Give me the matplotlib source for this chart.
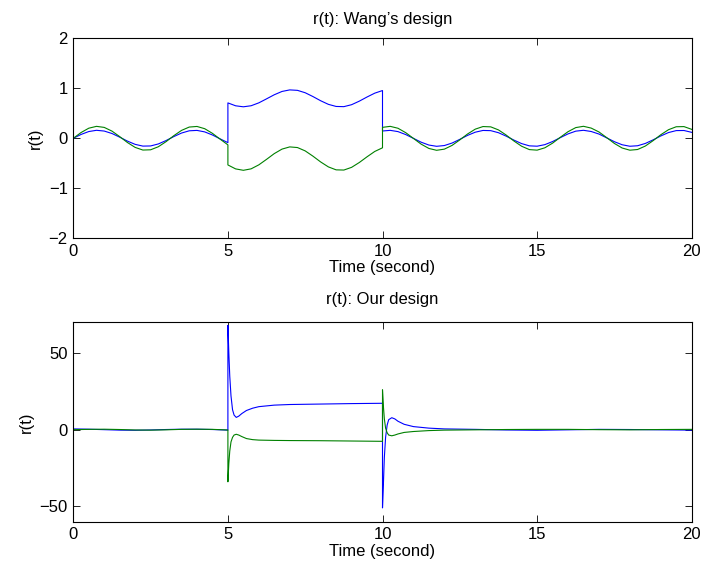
import numpy as np
from matplotlib import pyplot as plt

# ---- top panel: Wang's design (sampled every 0.25 s, jumps at t=5 and t=10)
t_a = np.arange(0, 5.001, 0.25)
t_b = np.arange(5, 10.001, 0.25)
t_c = np.arange(10, 20.001, 0.25)

wang_blue_a = [0.0, 0.077, 0.135, 0.160, 0.145, 0.096, 0.023, -0.056, -0.121, -0.156,
               -0.153, -0.113, -0.045, 0.034, 0.105, 0.150, 0.158, 0.128, 0.066, -0.012, -0.087]
wang_green_a = [0.0, 0.115, 0.202, 0.239, 0.218, 0.144, 0.034, -0.084, -0.182, -0.235,
                -0.230, -0.169, -0.067, 0.052, 0.158, 0.225, 0.237, 0.192, 0.099, -0.018, -0.131]

wang_blue_b = [0.708, 0.650, 0.630, 0.651, 0.709, 0.789, 0.871, 0.937, 0.968, 0.959, 0.911,
               0.835, 0.751, 0.679, 0.637, 0.633, 0.672, 0.743, 0.826, 0.903, 0.955]
wang_green_b = [-0.533, -0.612, -0.640, -0.611, -0.531, -0.421, -0.306, -0.216, -0.172, -0.185,
                -0.252, -0.357, -0.473, -0.572, -0.631, -0.635, -0.581, -0.484, -0.370, -0.263, -0.190]

wang_blue_c = [0.146, 0.159, 0.134, 0.075, -0.001, -0.078, -0.135, -0.160, -0.145, -0.095, -0.021,
               0.058, 0.122, 0.157, 0.153, 0.112, 0.043, -0.036, -0.106, -0.151, -0.158,
               -0.127, -0.065, 0.013, 0.088, 0.143, 0.160, 0.136, 0.085, 0.009, -0.068,
               -0.129, -0.159, -0.149, -0.103, -0.032, 0.047, 0.115, 0.154, 0.156, 0.119]
wang_green_c = [0.219, 0.239, 0.201, 0.113, -0.002, -0.117, -0.203, -0.240, -0.217, -0.142, -0.032,
                0.086, 0.183, 0.235, 0.229, 0.168, 0.065, -0.054, -0.159, -0.226, -0.237,
                -0.190, -0.097, 0.020, 0.132, 0.214, 0.240, 0.204, 0.127, 0.014, -0.103,
                -0.194, -0.238, -0.224, -0.155, -0.048, 0.071, 0.172, 0.231, 0.234, 0.179]

# ---- bottom panel: our design (denser sampling around the transients)
t_ours = [0, 0.5, 1, 1.5, 2, 2.5, 3, 3.5, 4, 4.5, 4.75, 5.0,
          5.0, 5.03, 5.06, 5.1, 5.15, 5.2, 5.27, 5.35, 5.45, 5.6, 5.8, 6.0, 6.5, 7, 8, 9, 10.0,
          10.0, 10.03, 10.06, 10.1, 10.15, 10.2, 10.3, 10.4, 10.5, 10.7, 11, 11.5, 12, 13,
          14, 15, 16, 17, 18, 19, 20]
ours_blue = [0.5, 0.3, 0.0, -0.3, -0.4, -0.2, 0.1, 0.3, 0.3, 0.1, -0.1, -0.3,
             68, 50, 35, 22, 13, 9.5, 8.0, 8.8, 10.5, 12.5, 14.0, 15.0, 16.0, 16.4, 16.7, 17.0, 17.2,
             -51, -35, -18, -5, 3, 6.5, 7.8, 7.0, 5.5, 3.5, 2.0, 1.0, 0.5, 0.2,
             -0.2, -0.4, -0.1, 0.2, 0.1, -0.1, -0.3]
ours_green = [0.0, 0.2, 0.3, 0.1, -0.2, -0.3, -0.1, 0.2, 0.3, 0.2, 0.0, -0.2,
              -34, -22, -14, -8, -5, -3.5, -3.0, -3.5, -4.5, -5.8, -6.5, -6.8, -7.0, -7.1, -7.2, -7.4, -7.6,
              26, 15, 7, 1, -2, -3.5, -4.0, -3.5, -2.8, -1.8, -1.2, -0.6, -0.3, -0.1,
              0.1, 0.2, 0.2, 0.0, -0.1, 0.1, 0.2]

BLUE = (0, 0, 1)
GREEN = (0, 0.5, 0)

plt.rcParams['font.family'] = ['Liberation Sans', 'DejaVu Sans']
plt.rcParams['font.size'] = 12

fig = plt.figure(figsize=(7.06, 5.79), dpi=100)
ax1 = fig.add_axes([73.3 / 706, 1 - 238.3 / 579, 618.4 / 706, 200 / 579])
ax2 = fig.add_axes([73.3 / 706, 1 - 521.7 / 579, 618.4 / 706, 199.4 / 579])

t_top = np.concatenate([t_a, t_b, t_c])
blue_top = wang_blue_a + wang_blue_b + wang_blue_c
green_top = wang_green_a + wang_green_b + wang_green_c

ax1.plot(t_top, blue_top, color=BLUE, lw=0.8)
ax1.plot(t_top, green_top, color=GREEN, lw=0.8)
ax1.set_xlim(0, 20)
ax1.set_ylim(-2, 2)
ax1.set_yticks([-2, -1, 0, 1, 2])
ax1.set_title('r(t): Wang\u2019s design', fontsize=12, pad=10)
ax1.set_xlabel('Time (second)', labelpad=1)
ax1.set_ylabel('r(t)')

ax2.plot(t_ours, ours_blue, color=BLUE, lw=0.8)
ax2.plot(t_ours, ours_green, color=GREEN, lw=0.8)
ax2.set_xlim(0, 20)
ax2.set_ylim(-60, 70)
ax2.set_yticks([-50, 0, 50])
ax2.set_title('r(t): Our design', fontsize=12, pad=13)
ax2.set_xlabel('Time (second)', labelpad=1)
ax2.set_ylabel('r(t)')

for ax in (ax1, ax2):
    ax.set_xticks([0, 5, 10, 15, 20])
    ax.tick_params(direction='in', top=True, right=True, length=5, width=0.6, pad=4)
    for s in ax.spines.values():
        s.set_linewidth(0.8)

fig.savefig('out.png', dpi=100)
